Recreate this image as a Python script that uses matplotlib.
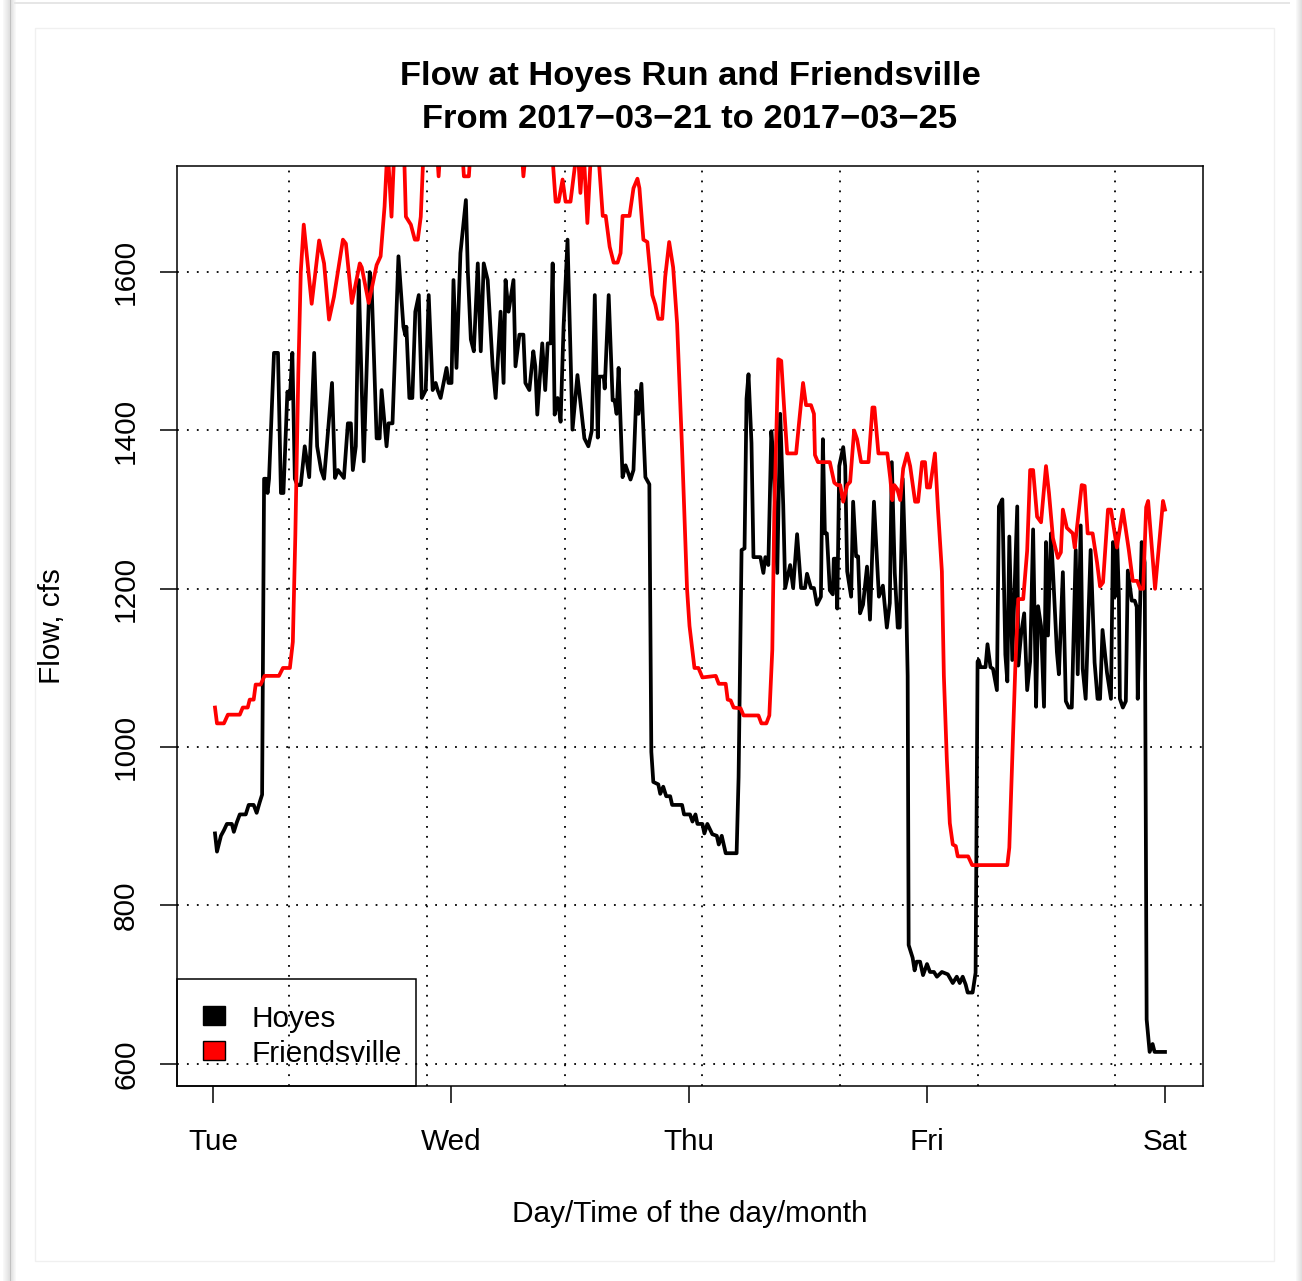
import numpy as np
import matplotlib
matplotlib.use("Agg")
import matplotlib.pyplot as plt
from matplotlib.patches import Rectangle

plt.rcParams['font.family'] = ['Liberation Sans', 'DejaVu Sans']

# ---------------- data (hours since Tue 2017-03-21 00:00) ----------------
hoyes_t = [0.2, 0.4, 0.8, 1.1, 1.4, 1.9, 2.1, 2.4, 2.7, 3.3, 3.6, 4.1, 4.4, 4.7, 4.95,
           5.15, 5.35, 5.5, 5.65, 6.15, 6.55, 6.85, 7.1, 7.5, 7.75, 8.0, 8.25, 8.5, 8.85,
           9.25, 9.7, 10.2, 10.5, 10.9, 11.2, 12.0, 12.3, 12.6, 13.2, 13.6, 13.9, 14.1,
           14.4, 14.7, 15.2, 15.8, 16.0, 16.5, 16.8, 17.0, 17.5, 17.7, 18.1, 18.7, 19.2,
           19.4, 19.5, 19.8, 20.1, 20.4, 20.75, 21.05, 21.45, 21.75, 22.15, 22.45, 22.65,
           22.95, 23.55, 23.75, 24.05, 24.25, 24.55, 24.95, 25.5, 25.7, 26.0, 26.3, 26.7,
           27.0, 27.3, 27.7, 28.2, 28.5, 29.0, 29.3, 29.5, 29.8, 30.3, 30.5, 30.9, 31.3,
           31.5, 31.9, 32.3, 32.5, 32.7, 33.2, 33.5, 33.75, 34.05, 34.25, 34.45, 34.75,
           35.05, 35.35, 35.75, 36.25, 36.75, 37.45, 37.85, 38.2, 38.5, 38.8, 38.95, 39.4,
           39.5, 39.9, 40.3, 40.5, 40.7, 40.9, 41.3, 41.6, 42.1, 42.4, 42.7, 42.9, 43.2,
           43.6, 44.0, 44.2, 44.4, 44.9, 45.1, 45.4, 45.7, 46.1, 46.3, 47.3, 47.5, 48.1,
           48.35, 48.65, 48.85, 49.35, 49.55, 49.85, 50.35, 50.8, 51.0, 51.3, 51.7, 52.8,
           53.0, 53.3, 53.6, 53.8, 54.0, 54.3, 54.5, 55.2, 55.5, 55.7, 56.0, 56.3, 56.5,
           56.9, 57.2, 57.5, 57.7, 58.2, 58.5, 58.9, 59.3, 59.7, 59.9, 60.3, 60.6, 60.9,
           61.3, 61.5, 61.7, 61.9, 62.2, 62.5, 62.6, 62.8, 62.95, 63.15, 63.55, 63.75,
           63.95, 64.35, 64.55, 64.85, 65.05, 65.25, 65.55, 65.95, 66.25, 66.65, 67.15,
           67.55, 67.95, 68.25, 68.45, 68.75, 69.05, 69.25, 69.55, 69.85, 70.05, 70.15,
           70.55, 70.75, 70.95, 71.3, 71.6, 72.0, 72.3, 72.7, 73.0, 73.5, 74.1, 74.6, 75.0,
           75.3, 75.6, 75.9, 76.1, 76.6, 76.9, 77.1, 77.2, 77.4, 77.9, 78.1, 78.4, 78.65,
           79.05, 79.25, 79.6, 79.9, 80.1, 80.3, 80.6, 81.1, 81.2, 81.5, 81.8, 82.1, 82.4,
           82.7, 83.0, 83.2, 83.5, 83.8, 84.0, 84.2, 84.5, 84.7, 85.1, 85.3, 85.7, 86.0,
           86.3, 86.6, 87.0, 87.2, 87.5, 87.7, 88.0, 88.5, 88.9, 89.2, 89.45, 89.7, 90.15,
           90.55, 90.75, 90.95, 91.15, 91.35, 91.45, 91.75, 92.05, 92.25, 92.65, 92.95,
           93.15, 93.25, 93.65, 93.95, 94.15, 94.45, 94.75, 94.95, 96.0]
hoyes_q = [891, 868, 888, 895, 903, 903, 893, 905, 915, 915, 927, 927, 917, 930, 940,
           1339, 1339, 1321, 1339, 1498, 1498, 1321, 1321, 1449, 1440, 1498, 1339, 1331, 1331,
           1380, 1341, 1498, 1380, 1350, 1339, 1460, 1340, 1350, 1340, 1409, 1409, 1350,
           1380, 1590, 1361, 1600, 1580, 1390, 1390, 1451, 1380, 1409, 1409, 1620, 1531,
           1520, 1531, 1441, 1441, 1550, 1571, 1441, 1451, 1571, 1451, 1460, 1451,
           1441, 1479, 1460, 1460, 1590, 1479, 1624, 1691, 1600, 1515, 1500, 1611,
           1500, 1611, 1590, 1481, 1441, 1550, 1460, 1590, 1550, 1590, 1481, 1521, 1521,
           1460, 1451, 1500, 1481, 1420, 1510, 1451, 1510, 1510, 1611, 1420, 1441,
           1411, 1531, 1641, 1401, 1470, 1390, 1380, 1400, 1571, 1391, 1468, 1468,
           1453, 1571, 1438, 1438, 1421, 1479, 1341, 1356, 1338, 1350, 1450, 1421, 1459,
           1341, 1332, 994, 956, 953, 941, 950, 938, 938, 927, 927, 915, 915,
           906, 915, 903, 903, 891, 903, 890, 888, 877, 888, 866, 866,
           962, 1249, 1251, 1440, 1471, 1384, 1240, 1240, 1220, 1240, 1230, 1399, 1367,
           1220, 1421, 1306, 1201, 1230, 1201, 1269, 1201, 1201, 1219, 1201, 1201, 1180,
           1190, 1389, 1270, 1270, 1198, 1193, 1238, 1238, 1175, 1355, 1379, 1355,
           1222, 1190, 1310, 1241, 1241, 1169, 1180, 1228, 1161, 1310, 1190,
           1204, 1151, 1182, 1360, 1220, 1151, 1151, 1339, 1217, 1090, 750,
           734, 718, 729, 729, 712, 726, 716, 716, 710, 716, 713, 702, 710,
           702, 710, 700, 690, 690, 715, 1108, 1110, 1101, 1101, 1130, 1101, 1099,
           1072, 1304, 1313, 1117, 1083, 1266, 1110, 1304, 1103, 1144, 1169, 1072, 1108,
           1275, 1051, 1178, 1153, 1051, 1259, 1141, 1270, 1223, 1120, 1092, 1221, 1058,
           1050, 1050, 1249, 1092, 1280, 1099, 1061, 1249, 1107, 1061, 1061, 1148, 1094,
           1061, 1259, 1190, 1270, 1190, 1061, 1050, 1058, 1223, 1185, 1185,
           1177, 1061, 1259, 1233, 656, 615, 625, 615, 615]

friend_t = [0.2, 0.4, 1.1, 1.5, 2.7, 3.0, 3.5, 3.7, 4.1, 4.3, 4.8, 5.2, 6.65, 7.05, 7.75,
            8.05, 8.3, 8.6, 8.85, 9.15, 9.95, 10.7, 11.2, 11.7, 12.2, 13.1, 13.4, 14.0,
            14.8, 15.0, 15.7, 16.5, 16.9, 17.3, 17.6, 18.0, 18.3, 19.25, 19.45, 19.95,
            20.35, 20.65, 20.95, 21.25, 22.55, 22.75, 22.95, 25.1, 25.3, 25.8, 26.0, 31.1,
            31.3, 31.6, 34.15, 34.55, 34.85, 35.25, 35.55, 36.05, 36.75, 37.05, 37.35,
            37.75, 38.15, 38.8, 39.3, 39.6, 40.0, 40.4, 40.8, 41.1, 41.3, 42.0, 42.4, 42.8,
            43.0, 43.4, 43.8, 44.3, 44.6, 44.9, 45.3, 45.6, 46.0, 46.4, 46.8, 47.3, 47.8,
            48.05, 48.55, 48.95, 49.35, 50.7, 51.0, 51.7, 51.9, 52.2, 52.5, 53.2, 53.5,
            55.0, 55.3, 55.8, 56.1, 56.4, 56.6, 56.9, 57.0, 57.3, 57.6, 57.9, 58.8, 59.1,
            59.5, 59.8, 60.3, 60.6, 60.7, 61.0, 62.2, 62.65, 62.95, 63.25, 63.55, 63.95,
            64.25, 64.65, 64.95, 65.35, 66.1, 66.5, 66.7, 67.1, 68.0, 68.3, 68.5, 68.7,
            69.0, 69.3, 69.6, 70.0, 70.3, 70.8, 71.1, 71.5, 71.8, 72.0, 72.3, 72.8, 73.1,
            73.5, 73.7, 74.0, 74.3, 74.6, 74.9, 75.1, 76.15, 76.55, 80.1, 80.3, 80.6, 80.9,
            81.2, 81.7, 82.1, 82.4, 82.7, 83.1, 83.5, 84.0, 84.3, 84.7, 85.2, 85.5, 85.7,
            86.1, 86.7, 86.9, 87.6, 87.9, 88.2, 88.7, 89.15, 89.45, 89.75, 90.25, 90.55,
            91.15, 91.75, 92.35, 92.75, 93.2, 93.5, 93.8, 94.1, 94.3, 95.0, 95.8, 96.0]
friend_q = [1050, 1030, 1030, 1041, 1041, 1050, 1050, 1060, 1060, 1079, 1079, 1090, 1090, 1100, 1100,
            1133, 1267, 1472, 1600, 1660, 1560, 1640, 1611, 1540, 1569, 1641, 1636, 1561,
            1611, 1606, 1561, 1609, 1620, 1683, 1760, 1670, 1760, 1760, 1670, 1660,
            1641, 1641, 1670, 1760, 1760, 1721, 1760, 1760, 1721, 1721, 1760, 1760,
            1721, 1760, 1760, 1689, 1689, 1717, 1689, 1689, 1760, 1700, 1760,
            1662, 1760, 1760, 1671, 1671, 1632, 1612, 1612, 1624, 1671, 1671, 1706, 1718,
            1706, 1641, 1638, 1571, 1559, 1541, 1541, 1594, 1638, 1606, 1535, 1377, 1200,
            1153, 1100, 1100, 1088, 1090, 1080, 1080, 1060, 1059, 1050, 1049, 1040,
            1040, 1030, 1030, 1040, 1123, 1297, 1445, 1490, 1488, 1427, 1371, 1371, 1410,
            1460, 1432, 1432, 1421, 1369, 1360, 1360, 1334, 1331, 1331, 1310, 1331,
            1335, 1400, 1389, 1360, 1360, 1429, 1429, 1371, 1371, 1339, 1312, 1331,
            1326, 1312, 1352, 1371, 1355, 1310, 1310, 1360, 1360, 1328, 1328, 1371, 1302,
            1222, 1090, 984, 904, 877, 875, 862, 862, 851, 851, 873, 986, 1099,
            1187, 1187, 1248, 1350, 1350, 1291, 1284, 1355, 1321, 1264, 1239, 1246, 1300,
            1277, 1270, 1252, 1331, 1330, 1270, 1270, 1233, 1203, 1208, 1300, 1300,
            1252, 1300, 1249, 1210, 1210, 1200, 1200, 1303, 1311, 1200, 1311, 1300]

day_ticks = [0, 24, 48, 72, 96]
day_labels = ["Tue", "Wed", "Thu", "Fri", "Sat"]
flow_ticks = [600, 800, 1000, 1200, 1400, 1600]
series_names = ["Hoyes", "Friendsville"]
series_colors = ["black", "red"]

# vertical grid: every 50000 s, anchored to the epoch (EST)
grid_origin_h = 27600 / 3600.0
grid_step_h = 50000 / 3600.0

# ---------------- figure ----------------
W, H = 1302, 1281
fig = plt.figure(figsize=(W / 100, H / 100), dpi=100)
fig.patch.set_facecolor("white")

# card / shadow decoration
for i, a in enumerate(np.linspace(0.05, 0.28, 8)):
    fig.add_artist(Rectangle(((3 + i) / W, 0), 1 / W, 1, transform=fig.transFigure,
                             facecolor=(0.5, 0.5, 0.5, a), edgecolor="none"))
for i, a in enumerate(np.linspace(0.28, 0.05, 6)):
    fig.add_artist(Rectangle(((10 + i) / W, 0), 1 / W, 1, transform=fig.transFigure,
                             facecolor=(0.5, 0.5, 0.5, a), edgecolor="none"))
for i, a in enumerate(np.linspace(0.05, 0.25, 6)):
    fig.add_artist(Rectangle(((1296 + i) / W, 0), 1 / W, 1, transform=fig.transFigure,
                             facecolor=(0.5, 0.5, 0.5, a), edgecolor="none"))
fig.add_artist(Rectangle((14 / W, 1 - 4 / H), (1290 - 14) / W, 1.5 / H, transform=fig.transFigure,
                         facecolor=(0.9, 0.9, 0.9), edgecolor="none"))
fig.add_artist(Rectangle((35 / W, 1 - 1261 / H), (1274 - 35) / W, (1261 - 28) / H,
                         transform=fig.transFigure, facecolor="none",
                         edgecolor=(0.94, 0.94, 0.94), linewidth=1.0))

ax = fig.add_axes([177 / W, 1 - 1086 / H, 1026 / W, 920 / H])
ax.set_facecolor("none")

# R-style 4% padding
t_min, t_max = min(hoyes_t), max(hoyes_t)
q_min, q_max = min(hoyes_q), max(hoyes_q)
ax.set_xlim(t_min - 0.04 * (t_max - t_min), t_max + 0.04 * (t_max - t_min))
ax.set_ylim(q_min - 0.04 * (q_max - q_min), q_max + 0.04 * (q_max - q_min))

# grid
dot = (0, (1, 4.5))
for v in flow_ticks:
    ax.axhline(v, color="black", lw=1.3, ls=dot, zorder=1)
g = grid_origin_h
while g < ax.get_xlim()[1]:
    ax.axvline(g, color="black", lw=1.3, ls=dot, zorder=1)
    g += grid_step_h

ax.plot(hoyes_t, hoyes_q, color=series_colors[0], lw=2.7, zorder=3, solid_joinstyle="round")
ax.plot(friend_t, friend_q, color=series_colors[1], lw=2.7, zorder=3, solid_joinstyle="round")

fs = 21.4
ax.set_xticks(day_ticks)
ax.set_xticklabels(day_labels, fontsize=fs)
ax.set_yticks(flow_ticks)
ax.set_yticklabels([str(v) for v in flow_ticks], fontsize=fs, rotation=90, va="center")
ax.tick_params(axis="both", direction="out", length=12.5, width=1.1, color="black")
ax.tick_params(axis="x", pad=17.5)
ax.tick_params(axis="y", pad=14)
for s in ax.spines.values():
    s.set_linewidth(1.1)
    s.set_zorder(5)

# titles / labels
fig.text(690 / W, 1 - 76 / H, "Flow at Hoyes Run and Friendsville", ha="center", va="center",
         fontsize=24.8, fontweight="bold")
fig.text(690 / W, 1 - 119 / H, "From 2017\u221203\u221221 to 2017\u221203\u221225", ha="center",
         va="center", fontsize=24.8, fontweight="bold")
fig.text(690 / W, 1 - 1214 / H, "Day/Time of the day/month", ha="center", va="center", fontsize=fs)
fig.text(52 / W, 1 - 626 / H, "Flow, cfs", ha="center", va="center", rotation=90, fontsize=fs)

# legend (R style, transparent box)
ax.add_patch(Rectangle((0, 0), (416 - 177) / 1026, (1086 - 979) / 920, transform=ax.transAxes,
                       facecolor="none", edgecolor="black", lw=1.1, zorder=6, clip_on=False))
sq_y = [(1086 - 1025) / 920, (1086 - 1060) / 920]
txt_y = [(1086 - 1019) / 920, (1086 - 1054) / 920]
for name, col, yb, yt in zip(series_names, series_colors, sq_y, txt_y):
    ax.add_patch(Rectangle(((203 - 177) / 1026, yb), 22 / 1026, 19 / 920, transform=ax.transAxes,
                           facecolor=col, edgecolor="black", lw=1.0, zorder=6))
    ax.text((252 - 177) / 1026, yt, name, transform=ax.transAxes, ha="left", va="center",
            fontsize=fs, zorder=6)

fig.savefig("out.png", dpi=100, facecolor="white")
